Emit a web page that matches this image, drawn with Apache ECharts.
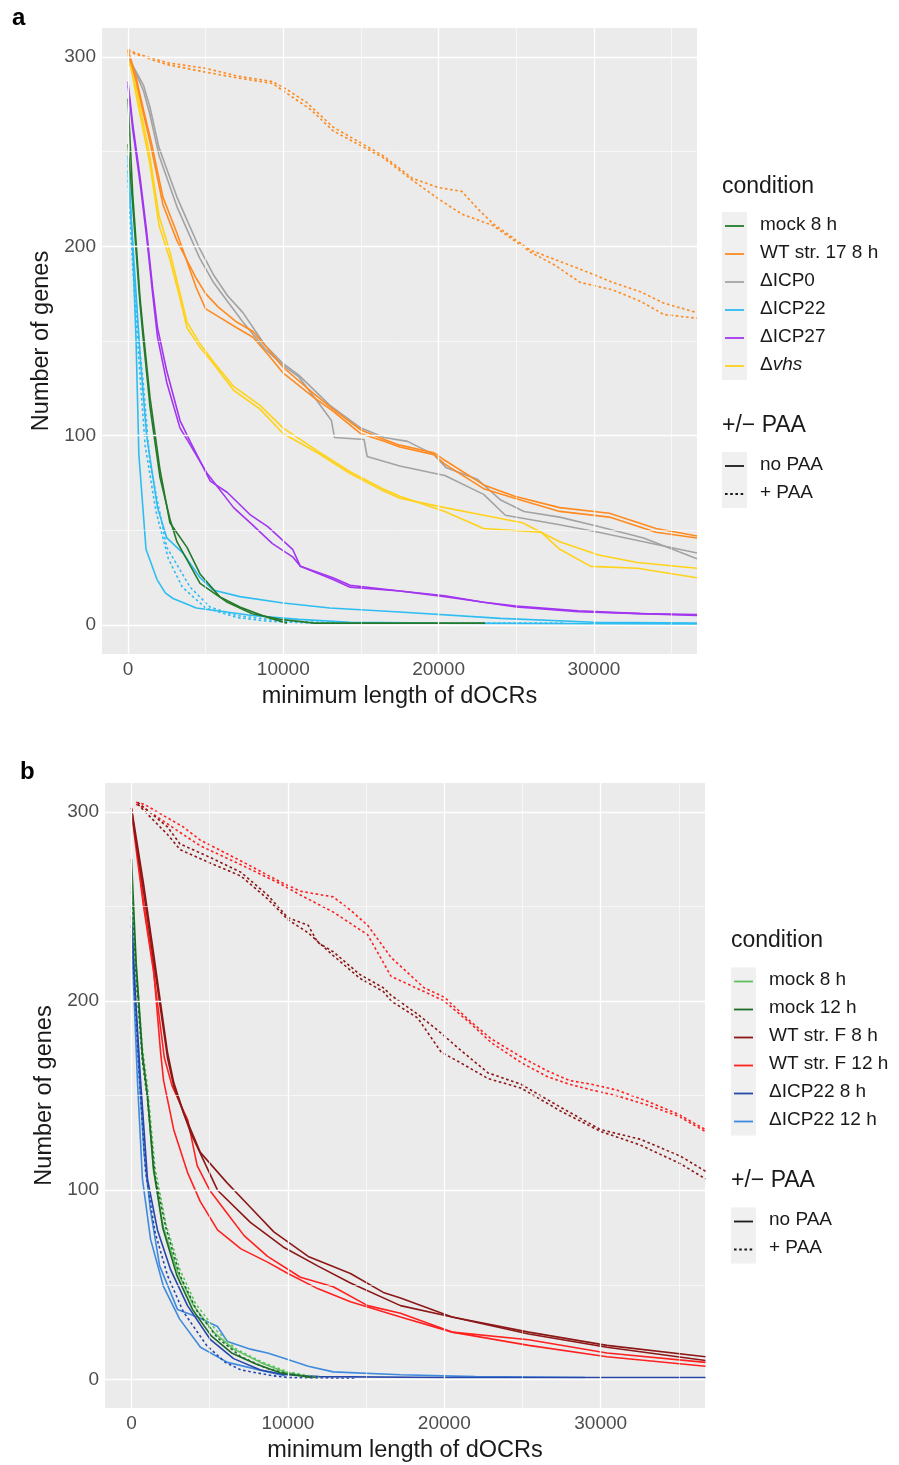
<!DOCTYPE html>
<html>
<head>
<meta charset="utf-8">
<script src="https://cdn.jsdelivr.net/npm/echarts@6/dist/echarts.min.js"></script>
<style>
html,body{margin:0;padding:0;background:#fff;}
#chart{width:899px;height:1465px;}
</style>
</head>
<body>
<div id="chart"></div>
<script>
// ---------- tick values ----------
const xTicks = [0, 10000, 20000, 30000];
const yTicks = [0, 100, 200, 300];
const xMinor = [5000, 15000, 25000, 35000];
const yMinor = [50, 150, 250];

// ---------- categories ----------
const conditionsA = ['mock 8 h', 'WT str. 17 8 h', 'ΔICP0', 'ΔICP22', 'ΔICP27', 'Δvhs'];
const conditionsB = ['mock 8 h', 'mock 12 h', 'WT str. F 8 h', 'WT str. F 12 h', 'ΔICP22 8 h', 'ΔICP22 12 h'];
const paaLevels = ['no PAA', '+ PAA'];

// ---------- panel a data [min length, number of genes] ----------
const a_mock8_1 = [[0,278],[300,228],[770,173],[970,156],[1420,120],[2060,82],[2700,54],[3800,41],[4640,27],[5900,15],[7200,9.5],[9000,4],[10240,1]];
const a_mock8_2 = [[0,254],[300,222],[770,170],[970,152],[1420,115],[2060,78],[2700,56],[3150,44],[4640,22],[6400,12],[8000,6],[9800,3],[12000,1],[23000,1]];
const a_wt17_1 = [[0,304],[500,290],[1000,272],[1500,255],[2250,226],[3150,207],[4400,178],[5000,167],[5800,163],[7000,157],[8050,152],[9000,143],[10000,133],[12000,120],[13200,113],[15000,101],[16500,97],[17500,94],[19700,90],[20400,85],[22900,72],[24900,67],[27800,60],[31000,57],[34000,49],[36640,46]];
const a_wt17_2 = [[0,303],[500,288],[1000,270],[1500,252],[2250,222],[3150,203],[4400,183],[5000,175],[5800,168],[7000,160],[8050,155],[9000,146],[10000,136],[12000,122],[13200,114],[15000,103],[16500,98],[17500,95],[19700,91],[20400,87],[22900,74],[24900,68],[27800,62],[31000,59],[34000,51],[36640,47]];
const a_wt17_paa_1 = [[0,304],[500,302],[2500,297],[5000,294],[7000,290],[9300,287],[10200,283],[11500,276],[13200,263],[16400,248],[18300,236],[20000,231],[21500,229],[22500,220],[23500,212],[25900,198],[27500,193],[29100,188],[31200,181],[33000,176],[34500,170],[36640,165]];
const a_wt17_paa_2 = [[0,303],[1000,300],[2500,296],[5000,292],[7000,289],[9300,286],[10200,281],[11800,272],[13200,261],[16400,247],[18300,235],[20000,225],[21500,217],[23500,211],[25900,197],[27500,190],[29100,181],[31200,177],[33000,171],[34500,164],[36640,162]];
const a_icp0_1 = [[0,301],[1000,282],[1400,270],[2000,248],[3150,221],[4600,194],[5500,181],[6400,171],[7400,160],[8800,146],[10000,137],[11000,131],[12300,117],[13100,108],[13300,99],[15200,98],[15400,89],[17500,84],[20400,79],[22900,69],[24300,58],[27800,53],[30300,49],[33200,44],[36640,38]];
const a_icp0_2 = [[0,300],[1000,285],[1400,274],[2000,252],[3150,226],[4600,199],[5500,185],[6400,174],[7400,165],[8800,148],[10000,138],[11000,132],[13000,116],[15000,104],[16500,99],[18000,97],[19700,90],[20500,83],[22500,77],[24000,66],[25500,60],[27800,57],[30300,52],[33200,46],[36640,35]];
const a_icp22_1 = [[0,248],[300,200],[520,150],[700,90],[1160,40],[1870,24],[2400,17],[2900,14],[4400,9],[8000,5],[11000,3],[14300,1.5],[20000,1],[36640,0.5]];
const a_icp22_2 = [[0,240],[400,190],[800,140],[1200,100],[1900,62],[2500,46],[3540,38],[4640,25],[5470,18.5],[7200,15],[10000,11.6],[13000,9],[17500,6.9],[24000,3.5],[30000,1.5],[36640,1]];
const a_icp22_paa_1 = [[0,243],[300,195],[700,150],[970,129],[1420,85],[2500,41],[4000,20],[5280,9.5],[7000,5],[8000,4],[10000,2],[14000,1],[28000,1]];
const a_icp22_paa_2 = [[0,235],[300,190],[700,140],[1100,95],[1800,60],[2600,35],[3500,20],[5000,9],[7000,4],[9000,2],[12000,1]];
const a_icp27_1 = [[0,287],[300,265],[800,235],[1200,208],[1600,177],[1900,157],[2500,134],[3350,108],[4000,97],[5300,76],[6400,70],[7900,58],[9000,52],[10600,40],[11100,31],[13200,25],[14300,21],[17500,18],[20400,15.5],[22900,12],[25000,10],[29000,7.5],[33000,6],[36640,5.5]];
const a_icp27_2 = [[0,285],[300,262],[800,232],[1200,205],[1600,174],[1900,152],[2500,128],[3350,104],[3800,98],[5100,80],[6800,62],[8000,53],[9300,43],[10600,36],[11100,31],[13200,24],[14300,20],[17500,18],[20400,15],[22900,12],[25000,9.5],[29000,7],[33000,6],[36640,5]];
const a_vhs_1 = [[0,303],[550,279],[1400,244],[2000,211],[2700,193],[3300,174],[3800,157],[4600,147],[5500,138],[6800,124],[8500,114],[10000,101],[12200,91],[14300,80],[16400,71],[17500,67],[20400,62],[22900,58],[25400,54],[27800,44],[30300,37],[32800,33],[36640,30]];
const a_vhs_2 = [[0,300],[550,283],[1400,248],[2000,216],[2700,197],[3300,177],[3800,160],[4600,149],[5500,139],[6800,126],[8500,116],[10000,104],[12200,92],[14300,81],[16400,72],[17500,68],[20400,60],[22900,51],[26600,49],[27800,40],[29800,31],[32800,30],[36640,25]];

// ---------- panel b data ----------
const b_mock8_1 = [[0,262],[300,215],[700,170],[1020,150],[1410,110],[2050,80],[2940,57],[3970,39],[5250,25],[6530,16],[8250,9],[9730,4],[11450,1]];
const b_mock8_paa = [[0,260],[300,218],[700,175],[1020,155],[1500,112],[2200,82],[3100,58],[4100,40],[5400,26],[6700,16],[8400,9],[10000,4],[12000,1]];
const b_mock12_1 = [[0,275],[300,220],[700,172],[1020,150],[1400,112],[2000,80],[2900,55],[3900,37],[5100,23],[6400,14],[8000,8],[9500,3.5],[11500,1]];
const b_mock12_paa = [[0,258],[300,212],[700,168],[1020,148],[1500,108],[2200,80],[3100,55],[4200,36],[5500,22],[7000,12],[8600,6],[10000,3],[11800,1]];
const b_wtf8_1 = [[0,302],[770,262],[1400,226],[2300,173],[2700,157],[3330,141],[4400,120],[6100,104],[7600,91],[9100,78],[11300,65],[14000,56],[16100,46],[17200,43],[20500,33],[25400,25],[30400,18],[36700,12]];
const b_wtf8_2 = [[0,300],[770,258],[1400,222],[2300,170],[2700,155],[3800,130],[5500,100],[7600,83],[9700,70],[11900,60],[14000,51],[17200,39],[20500,33],[25400,24],[30400,17],[36700,10]];
const b_wtf8_paa_1 = [[400,305],[2300,292],[3100,283],[5000,276],[7000,268],[8700,256],[10000,244],[11300,240],[11900,231],[12900,226],[14600,214],[16100,207],[16600,203],[18300,193],[19800,183],[20900,175],[22800,162],[24900,156],[27400,144],[30000,132],[32500,127],[35100,118],[36700,110]];
const b_wtf8_paa_2 = [[400,304],[2300,288],[3100,280],[5000,273],[7000,266],[8700,254],[10000,243],[11300,236],[12900,224],[14600,212],[16100,205],[16600,200],[18300,191],[19800,173],[20900,168],[22800,159],[24900,154],[27400,142],[30000,131],[32500,124],[35100,114],[36700,106]];
const b_wtf12_1 = [[0,302],[360,279],[770,252],[1400,218],[1860,173],[2050,158],[2700,132],[3600,109],[4400,94],[5500,79],[7000,69],[8700,62],[10000,56],[11900,48],[14000,41],[17200,33],[20500,25],[25400,18],[30400,12],[36700,7]];
const b_wtf12_2 = [[0,300],[360,276],[770,250],[1400,216],[2100,170],[2600,155],[3600,137],[4200,113],[5000,100],[6100,88],[7200,76],[8700,65],[10800,54],[12900,49],[15100,39],[17200,35],[20500,25],[25400,21],[30400,14],[36700,9]];
const b_wtf12_paa_1 = [[300,305],[800,304],[3300,292],[4400,285],[7000,274],[9500,263],[10800,258],[12900,255],[14000,248],[15100,240],[16600,223],[18700,207],[20000,202],[21700,189],[23000,180],[25000,170],[26600,163],[28000,158],[29400,156],[31000,153],[33000,147],[35000,140],[36700,132]];
const b_wtf12_paa_2 = [[300,304],[800,302],[3300,288],[4400,282],[7000,272],[9500,262],[10800,256],[12900,247],[15100,235],[16600,213],[18700,205],[20000,200],[21700,188],[23000,178],[25000,167],[26600,160],[28000,156],[29400,153],[31000,150],[33000,145],[35000,139],[36700,131]];
const b_icp22_8_1 = [[0,245],[200,210],[580,158],[1020,106],[1660,79],[2500,58],[3580,39],[5050,21],[6530,11],[8250,5],[9730,2.6],[12000,1.5],[20000,1],[36700,1]];
const b_icp22_8_paa = [[0,240],[200,205],[500,160],[900,110],[1500,78],[2300,55],[3300,36],[4800,18],[6000,9],[7000,5],[9000,2],[10000,1],[14300,0.5]];
const b_icp22_12_1 = [[0,250],[200,210],[500,160],[800,120],[1200,90],[1800,60],[2940,37],[4220,33],[5500,28],[6140,20],[7600,16],[8700,14],[10000,10.5],[11300,7],[12900,4],[17200,2.5],[22000,1.5],[29000,1]];
const b_icp22_12_2 = [[0,235],[200,195],[380,158],[700,106],[1220,74],[2050,49],[3070,32],[4410,17],[6140,9],[8700,4],[9800,2]];

// ---------- styles ----------
const colorsA = {'mock 8 h':'#247a2a','WT str. 17 8 h':'#ff8a1f','ΔICP0':'#a3a3a3','ΔICP22':'#2dbdf2','ΔICP27':'#a236f0','Δvhs':'#ffd21a'};
const colorsB = {'mock 8 h':'#5fc25f','mock 12 h':'#1c6b27','WT str. F 8 h':'#8c1717','WT str. F 12 h':'#ff2020','ΔICP22 8 h':'#2646aa','ΔICP22 12 h':'#3f8ade'};
const dashes = {'no PAA':'solid','+ PAA':[2.6,2.6]};

const linesA = [
  [a_icp22_1,'ΔICP22','no PAA'],[a_icp22_2,'ΔICP22','no PAA'],[a_icp22_paa_1,'ΔICP22','+ PAA'],[a_icp22_paa_2,'ΔICP22','+ PAA'],
  [a_mock8_1,'mock 8 h','no PAA'],[a_mock8_2,'mock 8 h','no PAA'],
  [a_icp27_1,'ΔICP27','no PAA'],[a_icp27_2,'ΔICP27','no PAA'],
  [a_vhs_1,'Δvhs','no PAA'],[a_vhs_2,'Δvhs','no PAA'],
  [a_icp0_1,'ΔICP0','no PAA'],[a_icp0_2,'ΔICP0','no PAA'],
  [a_wt17_1,'WT str. 17 8 h','no PAA'],[a_wt17_2,'WT str. 17 8 h','no PAA'],
  [a_wt17_paa_1,'WT str. 17 8 h','+ PAA'],[a_wt17_paa_2,'WT str. 17 8 h','+ PAA']
];
const linesB = [
  [b_icp22_12_1,'ΔICP22 12 h','no PAA'],[b_icp22_12_2,'ΔICP22 12 h','no PAA'],
  [b_icp22_8_1,'ΔICP22 8 h','no PAA'],[b_icp22_8_paa,'ΔICP22 8 h','+ PAA'],
  [b_mock8_1,'mock 8 h','no PAA'],[b_mock8_paa,'mock 8 h','+ PAA'],
  [b_mock12_1,'mock 12 h','no PAA'],[b_mock12_paa,'mock 12 h','+ PAA'],
  [b_wtf12_1,'WT str. F 12 h','no PAA'],[b_wtf12_2,'WT str. F 12 h','no PAA'],
  [b_wtf8_1,'WT str. F 8 h','no PAA'],[b_wtf8_2,'WT str. F 8 h','no PAA'],
  [b_wtf12_paa_1,'WT str. F 12 h','+ PAA'],[b_wtf12_paa_2,'WT str. F 12 h','+ PAA'],
  [b_wtf8_paa_1,'WT str. F 8 h','+ PAA'],[b_wtf8_paa_2,'WT str. F 8 h','+ PAA']
];

const FONT = 'Liberation Sans, Arial, Helvetica, sans-serif';

function gridLineSeries(idx, xs, ys, width) {
  return {
    type:'line', xAxisIndex:idx, yAxisIndex:idx, data:[[xs[0], ys[0]]],
    showSymbol:false, symbol:'none', silent:true, z:1,
    lineStyle:{opacity:0},
    markLine:{
      silent:true, symbol:['none','none'], animation:false,
      label:{show:false}, emphasis:{disabled:true},
      lineStyle:{color:'#ffffff', width:width, type:'solid'},
      data:[...xs.map(v=>({xAxis:v})), ...ys.map(v=>({yAxis:v}))]
    }
  };
}

function dataSeries(idx, list, colors) {
  return list.map(([arr, cond, paa]) => ({
    type:'line', name:cond + ' / ' + paa, xAxisIndex:idx, yAxisIndex:idx,
    data:arr, showSymbol:false, symbol:'none', smooth:false, silent:true, z:3,
    lineStyle:{color:colors[cond], width:1.6, type:dashes[paa]}
  }));
}

function makeX(idx, min, max) {
  return {
    gridIndex:idx, type:'value', min:min, max:max,
    axisLine:{show:false}, splitLine:{show:false},
    axisTick:{show:true, customValues:xTicks, length:4, lineStyle:{color:'#333333', width:1}},
    axisLabel:{customValues:xTicks, formatter:v => String(v), color:'#4d4d4d', fontSize:19, fontFamily:FONT, margin:6},
    name:'minimum length of dOCRs', nameLocation:'middle', nameGap:31,
    nameTextStyle:{color:'#1a1a1a', fontSize:23.5, fontFamily:FONT}
  };
}
function makeY(idx, min, max) {
  return {
    gridIndex:idx, type:'value', min:min, max:max,
    axisLine:{show:false}, splitLine:{show:false},
    axisTick:{show:true, customValues:yTicks, length:4, lineStyle:{color:'#333333', width:1}},
    axisLabel:{customValues:yTicks, formatter:v => String(v), color:'#4d4d4d', fontSize:19, fontFamily:FONT, margin:6},
    name:'Number of genes', nameLocation:'middle', nameGap:48, nameRotate:90,
    nameTextStyle:{color:'#1a1a1a', fontSize:23.5, fontFamily:FONT}
  };
}

function legendGraphics(x0, titleY, rowY0, names, colors, paaTitleY, paaRowY0, textX) {
  const els = [];
  const keyW = 25, rowH = 28;
  els.push({type:'text', left:x0, top:titleY-13, style:{text:'condition', fontSize:23, fontFamily:FONT, fill:'#1a1a1a'}});
  els.push({type:'rect', shape:{x:x0, y:rowY0-rowH/2, width:keyW, height:rowH*names.length}, style:{fill:'#f0f0f0'}});
  names.forEach((n,i) => {
    const cy = rowY0 + i*rowH;
    els.push({type:'line', shape:{x1:x0+3, y1:cy, x2:x0+keyW-3, y2:cy}, style:{stroke:colors[n], lineWidth:1.8}});
    const m = n.match(/^Δ(vhs)$/);
    if (m) {
      els.push({type:'text', left:textX, top:cy-11, style:{text:'{n|Δ}{i|vhs}', rich:{n:{fontSize:19, fontFamily:FONT, fill:'#1a1a1a'}, i:{fontSize:19, fontStyle:'italic', fontFamily:FONT, fill:'#1a1a1a'}}}});
    } else {
      els.push({type:'text', left:textX, top:cy-11, style:{text:n, fontSize:19, fontFamily:FONT, fill:'#1a1a1a'}});
    }
  });
  els.push({type:'text', left:x0, top:paaTitleY-13, style:{text:'+/− PAA', fontSize:23, fontFamily:FONT, fill:'#1a1a1a'}});
  els.push({type:'rect', shape:{x:x0, y:paaRowY0-rowH/2, width:keyW, height:rowH*paaLevels.length}, style:{fill:'#f0f0f0'}});
  paaLevels.forEach((p,i) => {
    const cy = paaRowY0 + i*rowH;
    const d = dashes[p];
    els.push({type:'line', shape:{x1:x0+3, y1:cy, x2:x0+keyW-3, y2:cy}, style:{stroke:'#1a1a1a', lineWidth:1.8, lineDash: d === 'solid' ? null : d}});
    els.push({type:'text', left:textX, top:cy-11, style:{text:p, fontSize:19, fontFamily:FONT, fill:'#1a1a1a'}});
  });
  return els;
}

const chart = echarts.init(document.getElementById('chart'), null, {renderer:'canvas'});
const option = {
  backgroundColor:'#ffffff',
  animation:false,
  grid:[
    {left:102, top:28, width:595, height:626, show:true, backgroundColor:'#ebebeb', borderWidth:0, containLabel:false},
    {left:105, top:783, width:600, height:625, show:true, backgroundColor:'#ebebeb', borderWidth:0, containLabel:false}
  ],
  xAxis:[ makeX(0, -1674, 36640), makeX(1, -1694, 36670) ],
  yAxis:[ makeY(0, -15.3, 315.3), makeY(1, -15.1, 315.2) ],
  series:[
    gridLineSeries(0, xMinor, yMinor, 0.6),
    gridLineSeries(0, xTicks, yTicks, 1.3),
    ...dataSeries(0, linesA, colorsA),
    gridLineSeries(1, xMinor, yMinor, 0.6),
    gridLineSeries(1, xTicks, yTicks, 1.3),
    ...dataSeries(1, linesB, colorsB)
  ],
  graphic:[
    {type:'text', left:12, top:6, style:{text:'a', fontSize:24, fontWeight:'bold', fontFamily:FONT, fill:'#000'}},
    {type:'text', left:20, top:760, style:{text:'b', fontSize:24, fontWeight:'bold', fontFamily:FONT, fill:'#000'}},
    ...legendGraphics(722, 188, 226, conditionsA, colorsA, 427, 466, 760),
    ...legendGraphics(731, 942, 981.5, conditionsB, colorsB, 1182, 1221.5, 769)
  ]
};
chart.setOption(option);
</script>
</body>
</html>
